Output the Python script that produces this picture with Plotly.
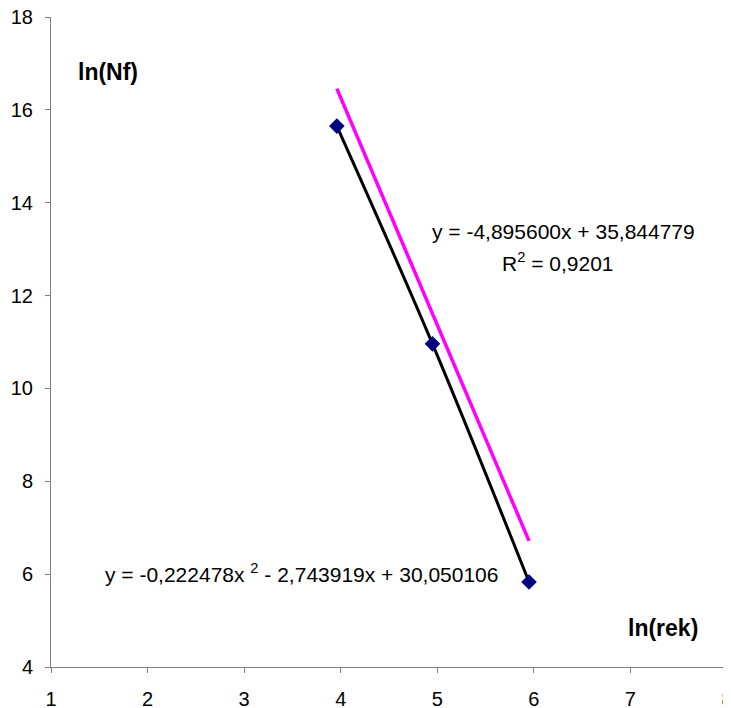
import plotly.graph_objects as go

# Data
ln_rek = [3.96, 4.95, 5.95]
ln_nf = [15.65, 10.96, 5.83]

# Linear trendline coefficients (as printed on the chart)
lin_slope = -4.895600
lin_intercept = 35.844779
lin_x = [3.96, 5.95]

x_ticks = [1, 2, 3, 4, 5, 6, 7, 8]
y_ticks = [4, 6, 8, 10, 12, 14, 16, 18]

FONT = "Liberation Sans, Arial, sans-serif"
FS = 20
FS_EQ = 21
FS_TITLE = 23

fig = go.Figure()

# magenta linear trendline
fig.add_trace(go.Scatter(
    x=lin_x, y=[lin_slope * v + lin_intercept for v in lin_x],
    mode="lines", line=dict(color="#FF00FF", width=3.5),
    hoverinfo="skip", showlegend=False))

# data series, black line with navy diamonds
fig.add_trace(go.Scatter(
    x=ln_rek, y=ln_nf, mode="lines+markers",
    line=dict(color="black", width=3, shape="spline"),
    marker=dict(symbol="diamond", size=12, color="#000080"),
    showlegend=False))

ann = [
    dict(x=1.263, y=16.82, text="<b>ln(Nf)</b>", xanchor="left", size=FS_TITLE),
    dict(x=7.72, y=4.84, text="<b>ln(rek)</b>", xanchor="right", size=FS_TITLE),
    dict(x=4.928, y=13.37, text="y = -4,895600x + 35,844779", xanchor="left", size=FS_EQ),
    dict(x=6.25, y=12.72, text="R<sup>2</sup> = 0,9201", xanchor="center", size=FS_EQ),
    dict(x=1.54, y=6.03, text="y = -0,222478x <sup>2</sup> - 2,743919x + 30,050106", xanchor="left", size=FS_EQ),
]
for a in ann:
    size = a.pop("size")
    fig.add_annotation(xref="x", yref="y", showarrow=False, yanchor="middle",
                       font=dict(family=FONT, size=size, color="black"), **a)

axis_common = dict(
    showgrid=False, zeroline=False, showline=True, linecolor="#808080", linewidth=1,
    ticks="outside", ticklen=5, tickcolor="#808080", tickwidth=1,
    tickfont=dict(family=FONT, size=FS, color="black"), automargin=False,
    ticklabeloverflow="allow",
)
fig.update_xaxes(range=[1, 8], tickvals=x_ticks, ticktext=[str(v) for v in x_ticks],
                 ticklabelstandoff=9, **axis_common)
fig.update_yaxes(range=[4, 18], tickvals=y_ticks, ticktext=[str(v) for v in y_ticks],
                 ticklabelstandoff=8, **axis_common)

# the page body has an 8px default margin, so the figure is offset by 8px
fig.update_layout(
    width=731, height=708,
    margin=dict(l=43, r=12, t=9, b=49),
    plot_bgcolor="white", paper_bgcolor="white",
    font=dict(family=FONT, size=FS, color="black"),
)

fig.write_html("out.html")
